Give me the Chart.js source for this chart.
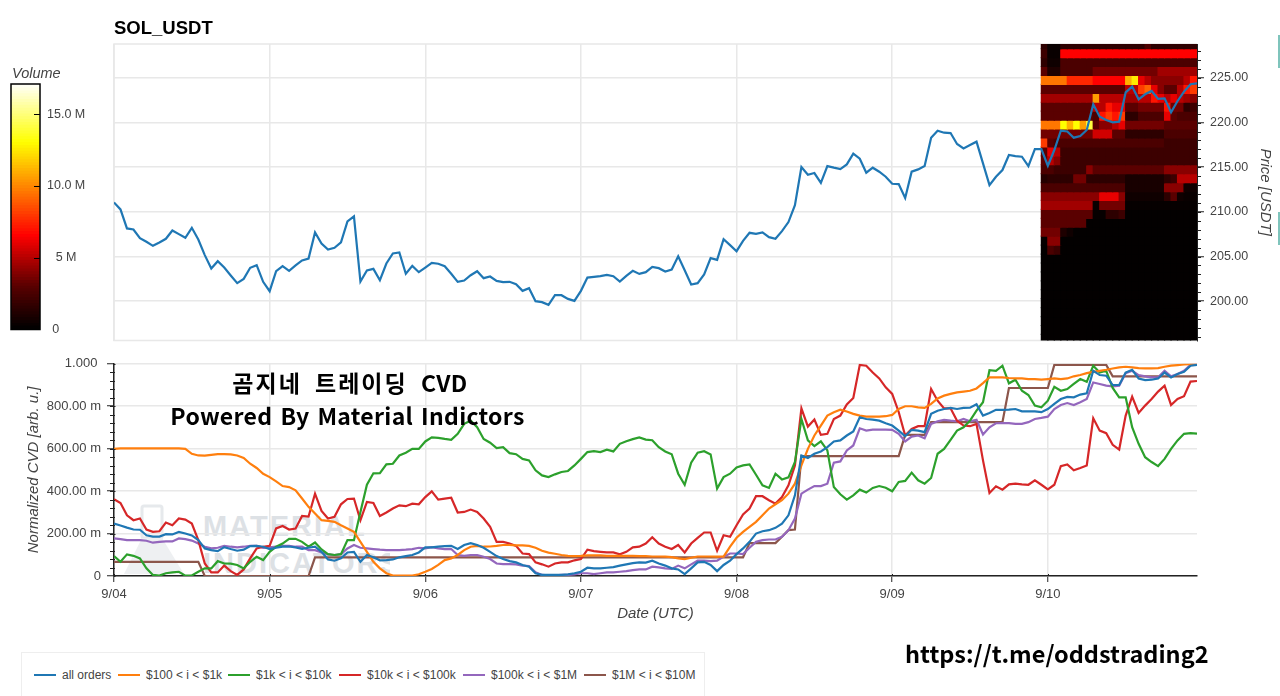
<!DOCTYPE html>
<html>
<head>
<meta charset="utf-8">
<script src="https://cdn.jsdelivr.net/npm/chart.js@4"></script>
<style>
html,body{margin:0;padding:0;background:#fff;width:1280px;height:696px;overflow:hidden;font-family:"Liberation Sans",Arial,sans-serif}
canvas{position:absolute;display:block}
.t{position:absolute;white-space:nowrap}
#legend{position:absolute;left:21px;top:652px;width:684px;height:60px;border:1px solid #eeeeee;box-sizing:border-box}
.li{position:absolute;top:15px;height:14px;font-size:12px;line-height:14px;color:#444;white-space:nowrap}
.li i{position:absolute;top:6px;left:0;width:22px;height:2px}
.li span{position:absolute;left:28px;top:0}
</style>
</head>
<body>
<svg id="wm" style="position:absolute;left:120px;top:500px" width="270" height="80">
  <g fill="none" stroke="#e6e9ec" stroke-width="3"><rect x="22" y="6" width="20" height="32" rx="2"/></g>
  <path d="M22 38 L4 74 L64 74 L42 38 Z" fill="#eef0f2"/>
  <text x="83" y="36" font-family="Liberation Sans" font-weight="700" font-size="29" fill="#dde1e5" letter-spacing="2">MATERIAL</text>
  <text x="83" y="73" font-family="Liberation Sans" font-weight="700" font-size="29" fill="#dde1e5" letter-spacing="2">INDICATORS</text>
</svg>
<canvas id="price" width="1280" height="354" style="left:0;top:0"></canvas>
<canvas id="cvd" width="1280" height="300" style="left:0;top:350px"></canvas>
<canvas id="bar" width="114" height="284" style="left:0;top:60px"></canvas>
<div class="t" style="left:114px;top:17px;font-size:18.5px;font-weight:700;color:#000">SOL_USDT</div>
<div class="t" style="left:12px;top:65px;font-size:14.5px;font-style:italic;color:#444">Volume</div>
<div class="t" style="left:0;width:700px;top:365px;text-align:center;font:700 23px 'Noto Sans CJK KR';letter-spacing:2px;word-spacing:6px;color:#000">곰지네 트레이딩 <span style="letter-spacing:.4px">CVD</span></div>
<div class="t" style="left:0;width:695px;top:398px;text-align:center;font:700 23px 'Noto Sans CJK KR';letter-spacing:.3px;word-spacing:2.5px;color:#000">Powered By Material Indictors</div>
<div class="t" style="left:905px;top:636px;font:700 23.5px 'Noto Sans CJK KR';color:#000">https://t.me/oddstrading2</div>
<div id="legend"></div>
<div style="position:absolute;left:1278px;top:35px;width:2px;height:33px;background:#7fc4bc"></div>
<div style="position:absolute;left:1278px;top:212px;width:2px;height:33px;background:#7fc4bc"></div>
<script>
const seriesNames=['all orders','$100 < i < $1k','$1k < i < $10k','$10k < i < $100k','$100k < i < $1M','$1M < i < $10M'];
const seriesColors=['#1f77b4','#ff7f0e','#2ca02c','#d62728','#9467bd','#8c564b'];
const dayTicks=[0,24,48,72,96,120,144];
const dayLabels=['9/04','9/05','9/06','9/07','9/08','9/09','9/10'];
const priceTicks=[200,205,210,215,220,225];
const cvdTicks=[0,200,400,600,800,1000];
const cvdTickLabels=['0','200.00 m','400.00 m','600.00 m','800.00 m','1.000 '];
const volumeTicks=[0,5,10,15];
const volumeTickLabels=['0      ','5 M','10.0 M','15.0 M'];

const price=[211.06,210.28,208.15,208.03,207.06,206.65,206.2,206.58,206.99,207.92,
207.51,207.1,208.22,206.91,205.16,203.66,204.48,203.77,202.88,202.02,
202.5,203.74,204.04,202.17,201.12,203.36,203.92,203.4,204.0,204.56,
204.78,207.7,206.46,205.79,205.98,206.58,208.93,209.49,202.2,203.44,
203.62,202.35,204.22,205.34,205.46,203.07,203.96,203.25,203.77,204.3,
204.19,203.92,203.07,202.17,202.32,202.91,203.36,202.58,202.77,202.28,
202.13,202.17,201.9,201.16,201.46,200.0,199.89,199.59,200.67,200.67,
200.26,200.04,201.16,202.65,202.73,202.8,202.95,202.8,202.2,202.84,
203.4,203.06,203.25,203.85,203.7,203.33,203.55,205.04,203.47,201.87,
202.02,202.99,204.82,204.63,206.95,206.28,205.6,206.76,207.66,207.55,
207.7,207.17,206.99,207.85,208.86,210.76,215.02,214.16,214.35,213.26,
215.13,214.95,214.8,215.32,216.52,215.96,214.39,214.95,214.5,213.94,
213.15,213.11,211.55,214.5,214.76,215.13,218.31,219.09,218.87,218.83,
217.6,217.11,217.49,217.86,215.43,213.0,213.94,214.69,216.37,216.25,
216.18,215.13,217.04,217.04,215.17,216.93,219.1,219.0,218.31,218.5,
219.17,222.05,220.66,220.29,220.03,220.1,223.39,224.03,222.61,223.17,
223.54,222.65,222.72,221.15,222.42,223.47,224.29,224.4];

const allOrders=[247,238,228,219,218,192,186,186,197,196,208,200,191,169,130,122,117,136,127,119,
124,141,142,138,127,133,138,139,135,128,133,138,114,78,72,83,111,114,67,99,
88,74,75,78,88,94,99,111,135,135,138,141,142,127,146,155,146,133,114,94,
80,70,64,52,44,13,5,5,5,5,8,13,20,39,36,36,39,42,49,55,
61,64,63,72,59,49,36,31,9,36,64,67,52,23,52,72,103,130,161,200,
211,216,227,247,286,380,568,556,576,587,607,634,639,662,681,748,740,737,732,
720,709,685,659,689,685,678,764,779,787,792,787,792,793,809,756,768,783,783,784,
787,776,776,776,772,787,811,834,844,842,855,861,967,947,944,900,900,959,972,931,
923,925,931,959,936,952,962,991,995];
const from100=[599,601,601,601,601,601,601,601,601,601,601,599,576,568,567,571,574,574,573,568,
556,529,509,482,466,446,424,419,404,365,326,294,263,260,255,239,224,208,161,114,
67,36,13,2,2,2,2,8,20,33,52,75,83,99,122,138,142,138,139,142,
146,146,144,144,142,133,119,110,105,99,95,94,95,97,97,97,95,95,95,95,
95,94,94,92,92,91,89,83,80,86,92,92,92,91,91,138,180,208,232,255,
286,318,338,357,388,435,521,599,662,709,756,772,784,775,764,756,751,751,751,
753,759,787,800,800,795,792,811,837,850,858,865,869,873,884,909,936,936,936,933,
931,931,928,928,925,928,931,928,931,941,947,956,962,967,972,978,983,986,983,980,
978,978,980,986,991,994,997,998,998];
const from1k=[94,67,102,95,83,36,5,2,13,17,20,2,3,20,36,36,70,59,58,52,
36,67,91,75,114,138,153,175,175,161,138,158,125,103,99,103,169,169,302,430,
484,485,526,529,568,581,599,599,634,653,651,646,642,670,717,732,701,646,628,603,
607,579,574,552,545,498,474,466,479,490,495,521,552,584,588,584,595,587,623,635,
645,653,643,640,607,587,574,482,430,534,581,588,573,412,466,482,512,521,526,477,
427,415,482,455,465,537,740,639,612,635,592,419,385,360,380,407,393,415,424,
416,399,443,448,487,451,435,462,576,599,642,685,701,732,779,819,970,967,991,908,
925,873,853,803,795,826,892,873,881,905,928,915,991,959,967,886,842,842,701,623,
560,537,518,552,599,639,670,673,671];
const from10k=[362,344,286,263,271,219,208,211,252,239,271,266,247,169,59,17,17,49,23,5,
31,83,130,138,142,224,236,219,224,283,280,388,307,271,279,338,363,365,263,349,
344,283,299,318,333,329,341,338,372,399,360,365,369,299,302,313,302,271,232,161,
161,153,142,106,103,64,55,44,59,64,64,74,80,124,117,114,111,111,102,114,
135,138,153,183,153,138,127,146,111,153,180,205,205,119,192,185,239,290,318,376,
376,357,341,372,427,521,790,704,737,665,670,740,756,808,839,995,991,959,931,
889,858,773,662,693,706,706,881,826,790,790,732,709,706,717,545,391,423,407,432,
435,432,430,451,430,408,430,518,526,498,509,521,743,685,673,618,596,756,845,768,
803,834,869,897,806,834,847,916,919];
const from100k=[177,174,169,169,169,166,157,161,163,163,177,174,167,153,138,130,133,142,138,135,
138,142,142,133,135,138,142,142,138,138,122,122,111,102,99,103,130,146,133,130,
127,124,122,122,122,124,127,133,130,136,130,127,127,99,95,99,99,91,80,59,
56,56,55,49,47,17,5,3,3,5,5,8,13,13,9,13,17,17,20,23,
28,31,31,44,41,36,33,49,36,55,72,72,70,72,91,106,106,103,133,161,
169,172,172,185,216,271,388,407,424,424,435,534,540,592,615,696,685,690,690,
690,689,670,634,657,662,649,717,729,736,732,729,740,729,736,667,701,720,721,720,
717,717,725,740,745,751,787,806,815,806,819,834,912,905,897,894,897,956,967,947,
941,936,936,967,941,952,967,995,998];
const from1M=[67,67,67,67,67,67,67,67,67,67,67,67,67,67,0,0,0,0,0,0,
0,0,0,0,0,0,0,0,0,0,0,88,88,88,88,88,88,88,88,88,
88,88,88,88,88,88,88,88,88,88,88,88,88,88,88,88,88,88,88,88,
88,88,88,88,88,88,88,88,88,88,88,88,88,88,88,88,88,88,88,88,
88,88,88,88,88,88,88,88,88,88,88,88,88,88,88,88,88,88,155,155,
155,155,155,185,216,219,565,565,565,565,565,565,565,565,565,565,565,565,565,565,
565,565,665,665,665,665,725,725,725,725,725,725,725,725,725,725,725,725,886,886,
886,886,886,886,886,995,995,995,995,995,995,995,995,995,941,941,941,941,941,941,
941,941,941,941,941,941,941,941];
const cvdSeries=[allOrders,from100,from1k,from10k,from100k,from1M];

const heatHours=[143,144,145,146,147,148,149,150,151,152,153,154,155,156,157,158,159,160,161,162,163,164,165,166];
const heatRowLows=[228.28,227.28,226.28,225.28,224.28,223.28,222.28,221.28,220.28,219.28,218.28,217.28,216.28,215.28,214.28,213.28,212.28,211.28,210.28,209.28,208.28,207.28,206.28,205.28,204.28,203.28,202.28,201.28,200.28,199.28,198.28,197.28,196.28,195.28];
const emptyRow=[.1,.1,.1,.1,.1,.1,.1,.1,.1,.1,.1,.1,.1,.1,.1,.1,.1,.1,.1,.1,.1,.1,.1,.1];
const heatRows=[
[1.5,.3,.3,1.5,1.5,1.5,1.5,1.5,1.5,1.5,1.5,1.5,1.5,1.5,1.5,1.5,2.5,1.5,1.5,1.5,1.5,1.5,1.5,1.5],
[2,.3,.3,6.5,6.5,6.5,6.5,6.5,6.5,6.5,6.5,6.5,6.5,6.5,6.5,6.5,6.5,6.5,6.5,6.5,6.5,6.5,6.5,6.5],
[1.5,.5,.5,2.5,2.5,2.5,2.5,2.5,2.5,2.5,2.5,2.5,2.5,2.5,2.5,2.5,2.5,2.5,2.5,2.5,2.5,2.5,2.5,2.5],
[3,1,1,2.5,2.5,2.5,2.5,2.5,3.5,3.5,3.5,3.5,3.5,3.5,3.5,3.5,3.5,3.5,4.5,4.5,4.5,4.5,4.5,4.5],
[9.5,9.5,9.5,9.5,7.5,7.5,7.5,7.5,6.5,6.5,6.5,6.5,6.5,11,12.5,6,5,4,4,4,4,4,5,7],
[3,3,3,3,3,3,3,3,3,3,3,3,3,5,5,8,9,6,4,3,3,5,7,8],
[4.5,4.5,4.5,4.5,4.5,4.5,4.5,4.5,10.5,5,5,5,5,4.5,4.5,5,5,7,6,5,6,5,4.5,4],
[3,3,3,3,3,3,3,3,5,5,7,6,6,3,3,3.5,3.5,3.5,3.5,7,3.5,3.5,1.5,2],
[3,3,3,3,3,3,3,3,2.5,7,8,7,8,1.5,1.5,2.5,2.5,2.5,2.5,6,3,2.5,2.5,2.5],
[9.5,9.5,9.5,13,11,13,10.5,14,3,4,4,5,6,3.5,3.5,3.5,3.5,3.5,3.5,3,3,3,3,3],
[3.5,3.5,3.5,3.5,3.5,3.5,3.5,3.5,5.5,5.5,5.5,3,3,1.5,1.5,1.5,1.5,1.5,1.5,2.5,2.5,2.5,2.5,2.5],
[8,3,2.5,2.5,2.5,2.5,2.5,2.5,2.5,2.5,2.5,2.5,2.5,2.5,2.5,2.5,2.5,2.5,2.5,2,2,2,2,2],
[3,6,5,2,2,2,2,2,2,2,2,2,2,2,2,2,2,2,2,2,2,2,2,2],
[3,5,4,2,2,2,2,2,2,2,2,2,2,2,2,2,2,2,2,2,2,2,2,2],
[2.5,2.5,2,2,2,2,2,4,3,3,3,3,3,3,3,3,3,3,3,4,4,4,4,4],
[1.2,1.5,1.5,1.5,1.5,3.5,3.5,1.5,1.5,1.5,1.5,1.5,1.5,.8,.8,.8,.8,.8,.8,1.5,2,5,5,5],
[2.5,2.5,2.5,2.5,2.5,2.5,2.5,2.5,2.5,2.5,2.5,2.5,2.5,.8,.8,.8,.8,.8,.8,4,4,4,.5,.5],
[4,4,4,4,4,4,4,4,4,6,6,6,4,.5,.5,.5,.5,.5,.5,1.5,3,.5,.3,.3],
[4.5,4.5,4.5,4.5,4.5,4.5,4.5,4.5,.3,3.5,3.5,3.5,3.5,.2,.2,.2,.2,.2,.2,.2,.2,.2,.2,.2],
[3,3,3,3,3,3,3,3,.2,.2,1.5,1.5,2,.1,.1,.1,.1,.1,.1,.1,.1,.1,.1,.1],
[3,3,3,3,3,3,3,.1,.1,.1,.1,.1,.1,.1,.1,.1,.1,.1,.1,.1,.1,.1,.1,.1],
[3.5,3.5,3.5,1,.5,.1,.1,.1,.1,.1,.1,.1,.1,.1,.1,.1,.1,.1,.1,.1,.1,.1,.1,.1],
[.2,4,4,.1,.1,.1,.1,.1,.1,.1,.1,.1,.1,.1,.1,.1,.1,.1,.1,.1,.1,.1,.1,.1],
[.1,2.5,2,.1,.1,.1,.1,.1,.1,.1,.1,.1,.1,.1,.1,.1,.1,.1,.1,.1,.1,.1,.1,.1],
emptyRow,emptyRow,emptyRow,emptyRow,emptyRow,emptyRow,emptyRow,emptyRow,emptyRow,emptyRow];

const colorStops=[[0,0,0,0],[3,90,0,0],[6.5,255,0,0],[13,255,255,0],[17.1,255,255,255]];
function heatColor(v){
  for(let k=1;k<colorStops.length;k++){
    const a=colorStops[k-1],b=colorStops[k];
    if(v<=b[0]){const f=(v-a[0])/(b[0]-a[0]);
      return `rgb(${Math.round(a[1]+(b[1]-a[1])*f)},${Math.round(a[2]+(b[2]-a[2])*f)},${Math.round(a[3]+(b[3]-a[3])*f)})`;}
  }
  return '#fff';
}
const FONT={family:"'Liberation Sans',Arial,sans-serif",size:12.5};
const FONT13={family:FONT.family,size:13};
const TITLE={family:FONT.family,size:15,style:'italic'};
const TXT='#444444',GRID='#e8e8e8',AXIS='#222222';

const decor={id:'decor',
  beforeDatasetsDraw(c,_,o){
    if(!o.frame)return;
    const a=c.chartArea,x=c.ctx;x.save();x.strokeStyle=GRID;x.lineWidth=1.5;
    x.beginPath();x.moveTo(a.right,a.top);x.lineTo(a.left,a.top);x.lineTo(a.left,a.bottom);x.lineTo(a.right,a.bottom);x.stroke();x.restore();
  },
  afterDraw(c,_,o){
    const x=c.ctx;x.save();x.lineWidth=1;
    (o.marks||[]).forEach(m=>{
      const s=c.scales[m.axis];x.strokeStyle=m.color||AXIS;
      m.values.forEach(v=>{
        const p=Math.round(s.getPixelForValue(v))+.5;x.beginPath();
        if(s.isHorizontal()){x.moveTo(p,c.chartArea.bottom-m.inner);x.lineTo(p,c.chartArea.bottom+m.outer);}
        else if(s.position==='right'){x.moveTo(c.chartArea.right-m.inner,p);x.lineTo(c.chartArea.right+m.outer,p);}
        else{x.moveTo(c.chartArea.left-m.outer,p);x.lineTo(c.chartArea.left+m.inner,p);}
        x.stroke();
      });
    });
    if(o.box){const a=c.chartArea;x.strokeStyle='#000';x.lineWidth=1.5;x.strokeRect(a.left,a.top,a.width,a.height);}
    x.restore();
  }};
const hours=price.map((_,i)=>i);
const minorPrice=[];for(let p=196;p<=228;p++)minorPrice.push(p);
const minorCvd=[];for(let p=40;p<1000;p+=40)minorCvd.push(p);

const xHidden={type:'linear',min:0,max:167,offset:false,display:true,
  afterBuildTicks:s=>{s.ticks=dayTicks.map(v=>({value:v}));},
  grid:{color:GRID,lineWidth:1.5,drawTicks:false,offset:false},border:{display:false},ticks:{display:false},
  afterFit:s=>{s.height=0;}};

new Chart(document.getElementById('price'),{
  type:'line',
  data:{datasets:[
    {type:'line',label:'price',data:price.map((v,i)=>({x:hours[i],y:v})),borderColor:seriesColors[0],borderWidth:2.2,pointRadius:0,tension:0,order:1},
    ...heatRows.map((row,r)=>({type:'bar',label:'heat'+r,order:2,grouped:false,barPercentage:1,categoryPercentage:1,borderWidth:0,inflateAmount:.6,
      data:row.map((v,c)=>({x:heatHours[c]+.5,y:[heatRowLows[r],heatRowLows[r]+1]})),
      backgroundColor:row.map(heatColor)}))
  ]},
  options:{responsive:false,animation:false,devicePixelRatio:1,
    layout:{padding:{left:114,top:44,bottom:0,right:0}},
    plugins:{legend:{display:false},tooltip:{enabled:false},
      decor:{frame:true,marks:[{axis:'y',values:minorPrice,inner:0,outer:4}]}},
    scales:{
      x:xHidden,
      y:{position:'right',min:195.6,max:228.8,
        afterBuildTicks:s=>{s.ticks=priceTicks.map(v=>({value:v}));},
        afterFit:s=>{s.width=83;},
        grid:{color:GRID,lineWidth:1.5,tickColor:AXIS,tickLength:7,tickWidth:1},
        border:{display:true,color:AXIS,width:1},
        ticks:{color:TXT,font:FONT,padding:6,callback:v=>v.toFixed(2)},
        title:{display:true,text:'Price [USDT]',color:TXT,font:TITLE,padding:{top:6,bottom:0}}
      }
    }},
  plugins:[decor]
});

const cvdChart=new Chart(document.getElementById('cvd'),{
  type:'line',
  data:{labels:hours,datasets:cvdSeries.map((s,k)=>({label:seriesNames[k],data:s.map((v,i)=>({x:hours[i],y:v})),borderColor:seriesColors[k],borderWidth:2.2,pointRadius:0,tension:0}))},
  options:{responsive:false,animation:false,devicePixelRatio:1,
    layout:{padding:{left:0,top:13,bottom:0,right:83}},
    plugins:{legend:{display:false},tooltip:{enabled:false},
      decor:{marks:[{axis:'y',values:minorCvd,inner:1,outer:4},{axis:'y',values:cvdTicks,inner:1.5,outer:0},{axis:'x',values:dayTicks,inner:2,outer:0}]}},
    scales:{
      x:{type:'linear',min:0,max:167,offset:false,
        afterBuildTicks:s=>{s.ticks=dayTicks.map(v=>({value:v}));},
        afterFit:s=>{s.height=74;},
        grid:{color:GRID,lineWidth:1.5,tickColor:AXIS,tickLength:6,tickWidth:1},
        border:{display:true,color:AXIS,width:1.5},
        ticks:{color:TXT,font:FONT13,padding:5,maxRotation:0,autoSkip:false,callback:v=>dayLabels[dayTicks.indexOf(v)]},
        title:{display:true,text:'Date (UTC)',color:TXT,font:TITLE,padding:{top:0,bottom:27}}
      },
      y:{min:0,max:1000,
        afterBuildTicks:s=>{s.ticks=cvdTicks.map(v=>({value:v}));},
        afterFit:s=>{s.width=114;},
        grid:{color:GRID,lineWidth:1.5,tickColor:AXIS,tickLength:7,tickWidth:1},
        border:{display:true,color:AXIS,width:1.5},
        ticks:{color:TXT,font:FONT13,padding:6,callback:v=>cvdTickLabels[cvdTicks.indexOf(v)]},
        title:{display:true,text:'Normalized CVD [arb. u.]',color:TXT,font:TITLE,padding:{top:25,bottom:0}}
      }
    }},
  plugins:[decor]
});

const colorbarMax=17.1,colorbarStep=.2;
const levels=[];for(let l=0;l<colorbarMax;l+=colorbarStep)levels.push(l);
new Chart(document.getElementById('bar'),{
  type:'bar',
  data:{labels:['Volume'],datasets:levels.map(l=>({data:[[l,Math.min(l+colorbarStep+.03,colorbarMax)]],backgroundColor:heatColor(l+colorbarStep/2),borderWidth:0,barPercentage:1,categoryPercentage:1,grouped:false}))},
  options:{responsive:false,animation:false,devicePixelRatio:1,
    layout:{padding:{left:11,top:24,bottom:0,right:0}},
    plugins:{legend:{display:false},tooltip:{enabled:false},
      decor:{box:true,marks:[{axis:'y',values:[5,10,15],inner:6,outer:0,color:'#000'}]}},
    scales:{
      x:{display:false,offset:true,grid:{display:false}},
      y:{position:'right',min:0,max:colorbarMax,
        afterBuildTicks:s=>{s.ticks=volumeTicks.map(v=>({value:v}));},
        afterFit:s=>{s.width=74;},
        grid:{display:false,drawTicks:false},border:{display:false},
        ticks:{color:TXT,font:FONT,padding:7,crossAlign:'center',callback:v=>volumeTickLabels[volumeTicks.indexOf(v)]}
      }
    }},
  plugins:[decor]
});

const legendLefts=[12,96,206,317,441,562];
const legendBox=document.getElementById('legend');
cvdChart.data.datasets.forEach((d,k)=>{
  const it=document.createElement('div');it.className='li';it.style.left=legendLefts[k]+'px';
  const h=document.createElement('i');h.style.background=d.borderColor;
  const s=document.createElement('span');s.textContent=d.label;
  it.append(h,s);legendBox.append(it);
});
</script>
</body>
</html>
